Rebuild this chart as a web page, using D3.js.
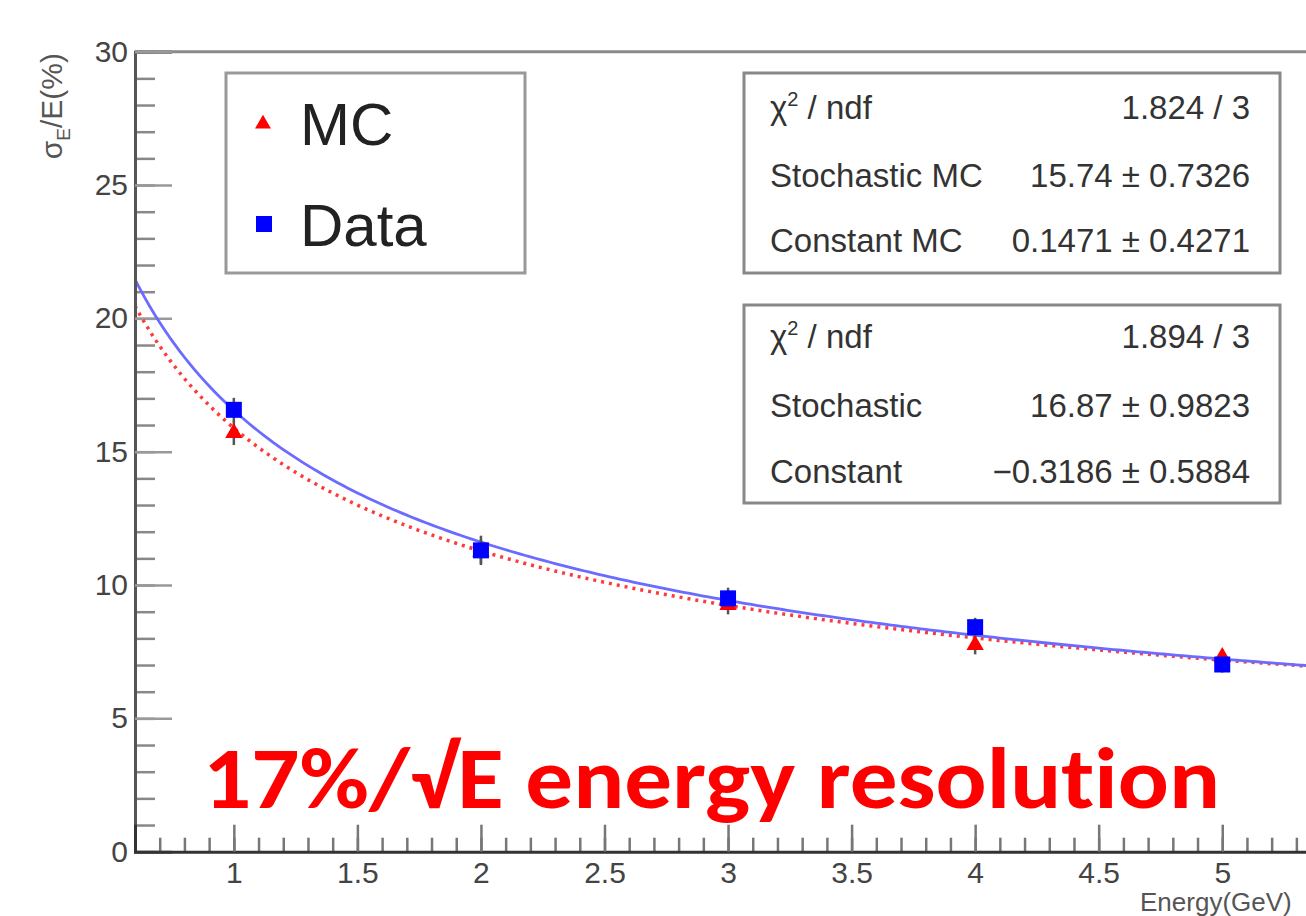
<!DOCTYPE html>
<html>
<head>
<meta charset="utf-8">
<script src="https://cdn.jsdelivr.net/npm/d3@7"></script>
<style>
  body { margin: 0; background: #fff; overflow: hidden; }
  svg { display: block; font-family: "Liberation Sans", Arial, sans-serif; }
</style>
</head>
<body>
<script>
// energies (GeV)
var energies = [1, 2, 3, 4, 5];

// MC resolution and errors (%)
var mcValues = [15.7, 11.25, 9.25, 7.75, 7.3];
var mcErrors = [0.45, 0.45, 0.35, 0.35, 0.3];

// Data resolution and errors (%)
var dataValues = [16.57, 11.3, 9.5, 8.42, 7.02];
var dataErrors = [0.45, 0.55, 0.4, 0.35, 0.3];

// fit results: sigma/E = stoch/sqrt(E) + const
var fitNames = ["MC", "Data"];
var fitStoch = [15.74, 16.87];
var fitConst = [0.1471, -0.3186];

// stat box rows
var statMC = [["χ2 / ndf", "1.824 / 3"], ["Stochastic MC", "15.74 ± 0.7326"], ["Constant MC", "0.1471 ± 0.4271"]];
var statData = [["χ2 / ndf", "1.894 / 3"], ["Stochastic", "16.87 ± 0.9823"], ["Constant", "−0.3186 ± 0.5884"]];

var yMajor = [0, 5, 10, 15, 20, 25, 30];
var xMajor = [1, 1.5, 2, 2.5, 3, 3.5, 4, 4.5, 5];

var width = 1306, height = 916;

var x = d3.scaleLinear().domain([0.6, 5.6]).range([135, 135 + 5 * 247.1]);
var y = d3.scaleLinear().domain([0, 30]).range([851.7, 51.7]);

var svg = d3.select("body").append("svg")
    .attr("width", width)
    .attr("height", height);

svg.append("defs").append("clipPath").attr("id", "plot")
    .append("rect")
    .attr("x", x(0.6) + 2).attr("y", y(30))
    .attr("width", width).attr("height", y(0) - y(30));

// frame top
svg.append("line")
    .attr("x1", x(0.6)).attr("x2", width)
    .attr("y1", y(30)).attr("y2", y(30))
    .attr("stroke", "#8a8a8a").attr("stroke-width", 3);

// y axis minor ticks
svg.append("g")
    .attr("transform", "translate(" + x(0.6) + ",0)")
    .call(d3.axisLeft(y).tickValues(d3.range(0, 31, 1)).tickSize(-20).tickFormat(""))
    .call(function(g) { g.select(".domain").remove(); })
    .selectAll("line").attr("stroke", "#888").attr("stroke-width", 2.5);

// y axis major
var yAxis = svg.append("g")
    .attr("transform", "translate(" + x(0.6) + ",0)")
    .call(d3.axisLeft(y).tickValues(yMajor).tickSize(-37).tickPadding(7));
yAxis.select(".domain").attr("stroke", "#555").attr("stroke-width", 3);
yAxis.selectAll("line").attr("stroke", "#999").attr("stroke-width", 2.5);
yAxis.selectAll("text")
    .attr("font-size", "30px")
    .attr("fill", "#444")
    .attr("font-family", "Liberation Sans, Arial, sans-serif");

// x axis minor ticks
svg.append("g")
    .attr("transform", "translate(0," + y(0) + ")")
    .call(d3.axisBottom(x).tickValues(d3.range(0.7, 5.6, 0.1)).tickSize(-14).tickFormat(""))
    .call(function(g) { g.select(".domain").remove(); })
    .selectAll("line").attr("stroke", "#777").attr("stroke-width", 2.5);

// x axis major
var xAxis = svg.append("g")
    .attr("transform", "translate(0," + y(0) + ")")
    .call(d3.axisBottom(x).tickValues(xMajor).tickSize(-27).tickPadding(10).tickFormat(d3.format("")));
xAxis.select(".domain").attr("stroke", "#333").attr("stroke-width", 3);
xAxis.selectAll("line").attr("stroke", "#777").attr("stroke-width", 2.5);
xAxis.selectAll("text")
    .attr("font-size", "30px")
    .attr("fill", "#444")
    .attr("font-family", "Liberation Sans, Arial, sans-serif");

// axis titles
var yTitle = svg.append("text")
    .attr("transform", "translate(62,53) rotate(-90)")
    .attr("text-anchor", "end")
    .attr("font-size", "30px")
    .attr("fill", "#555");
yTitle.append("tspan").text("σ");
yTitle.append("tspan").attr("font-size", "19px").attr("dy", 8).text("E");
yTitle.append("tspan").attr("dy", -8).text("/E(%)");

svg.append("text")
    .attr("x", 1140).attr("y", 911)
    .attr("font-size", "26px")
    .attr("fill", "#555")
    .text("Energy(GeV)");

// fit curves
var curveX = d3.range(0.6, 5.61, 0.02);
var line = d3.line()
    .x(function(d) { return x(d[0]); })
    .y(function(d) { return y(d[1]); });

var curves = svg.append("g").attr("clip-path", "url(#plot)");
fitNames.forEach(function(name, k) {
    var pts = curveX.map(function(e) { return [e, fitStoch[k] / Math.sqrt(e) + fitConst[k]]; });
    var path = curves.append("path")
        .datum(pts)
        .attr("d", line)
        .attr("fill", "none");
    if (name === "MC") {
        path.attr("stroke", "#ff3a3a").attr("stroke-width", 3.5).attr("stroke-dasharray", "3,5");
    } else {
        path.attr("stroke", "#6b6bff").attr("stroke-width", 2.8);
    }
});

// error bars
function errorBars(vals, errs) {
    svg.append("g").selectAll("line")
        .data(vals)
        .enter()
        .append("line")
        .attr("x1", function(d, i) { return x(energies[i]); })
        .attr("x2", function(d, i) { return x(energies[i]); })
        .attr("y1", function(d, i) { return y(d - errs[i]); })
        .attr("y2", function(d, i) { return y(d + errs[i]); })
        .attr("stroke", "#555")
        .attr("stroke-width", 2.5);
}
errorBars(mcValues, mcErrors);
errorBars(dataValues, dataErrors);

// MC triangles
var tri = d3.symbol().type(d3.symbolTriangle).size(130);
svg.append("g").selectAll("path")
    .data(mcValues)
    .enter()
    .append("path")
    .attr("d", tri)
    .attr("transform", function(d, i) { return "translate(" + x(energies[i]) + "," + y(d) + ")"; })
    .attr("fill", "#ff0000");

// Data squares
svg.append("g").selectAll("rect")
    .data(dataValues)
    .enter()
    .append("rect")
    .attr("x", function(d, i) { return x(energies[i]) - 8; })
    .attr("y", function(d) { return y(d) - 8; })
    .attr("width", 16)
    .attr("height", 16)
    .attr("fill", "#0000ff");

// legend
var legend = svg.append("g");
legend.append("rect")
    .attr("x", 226).attr("y", 73).attr("width", 299).attr("height", 200)
    .attr("fill", "#fff").attr("stroke", "#999").attr("stroke-width", 3);
legend.append("path")
    .attr("d", d3.symbol().type(d3.symbolTriangle).size(110))
    .attr("transform", "translate(263,124)")
    .attr("fill", "#ff0000");
legend.append("rect")
    .attr("x", 256).attr("y", 216).attr("width", 16).attr("height", 16)
    .attr("fill", "#0000ff");
legend.append("text").attr("x", 300).attr("y", 145)
    .attr("font-size", "60px").attr("fill", "#222").text("MC");
legend.append("text").attr("x", 300).attr("y", 246)
    .attr("font-size", "60px").attr("fill", "#222").text("Data");

// stat boxes
function statBox(rows, top, h, baselines) {
    var g = svg.append("g");
    g.append("rect")
        .attr("x", 744).attr("y", top).attr("width", 536).attr("height", h)
        .attr("fill", "#fff").attr("stroke", "#888").attr("stroke-width", 3);
    rows.forEach(function(r, i) {
        var t = g.append("text")
            .attr("x", 770).attr("y", baselines[i])
            .attr("font-size", "33px").attr("fill", "#333");
        if (r[0].indexOf("χ2") === 0) {
            t.append("tspan").text("χ");
            t.append("tspan").attr("font-size", "20px").attr("dy", -13).text("2");
            t.append("tspan").attr("dy", 13).text(" / ndf");
        } else {
            t.text(r[0]);
        }
        g.append("text")
            .attr("x", 1250).attr("y", baselines[i])
            .attr("text-anchor", "end")
            .attr("font-size", "33px").attr("fill", "#333")
            .text(r[1]);
    });
}
statBox(statMC, 73, 200, [119, 187, 252]);
statBox(statData, 305, 198, [348, 417, 483]);

// big annotation
svg.append("text")
    .attr("x", 203).attr("y", 808)
    .attr("font-family", "Carlito, Calibri, 'Open Sans', sans-serif")
    .attr("font-weight", "bold")
    .attr("font-size", "88px")
    .attr("fill", "#ff0000")
    .style("font-variant-ligatures", "none")
    .style("font-feature-settings", "'liga' 0, 'clig' 0")
    .attr("textLength", 1017)
    .attr("lengthAdjust", "spacingAndGlyphs")
    .text("17%/√E energy resolution");
</script>
</body>
</html>
